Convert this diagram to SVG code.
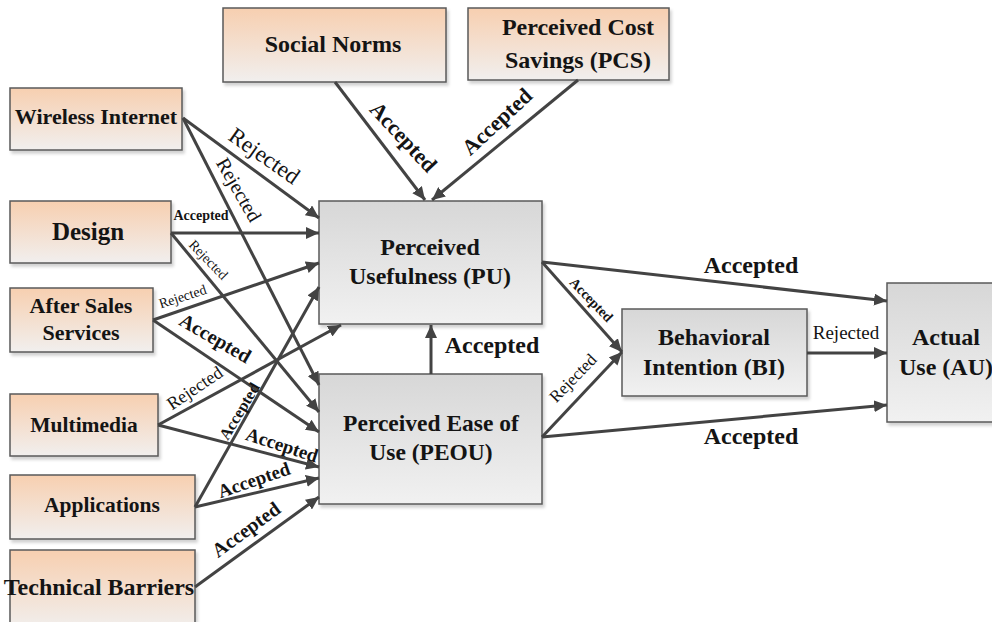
<svg xmlns="http://www.w3.org/2000/svg" width="992" height="622" viewBox="0 0 992 622">
  <style>
    .box { stroke: #5a5a5a; stroke-width: 1.5; }
    .ext { fill: url(#peach); }
    .core { fill: url(#grey); }
    .t { font-family: "Liberation Serif", "Times New Roman", serif; font-weight: bold; fill: #141414; text-anchor: middle; }
    .conn line { stroke: #434343; stroke-width: 3; marker-end: url(#arrow); }
    .lbl { font-family: "Liberation Serif", "Times New Roman", serif; fill: #141414; text-anchor: middle; }
    .acc { font-weight: bold; }
  </style>
  <defs>
    <linearGradient id="peach" x1="0" y1="0" x2="0" y2="1">
      <stop offset="0" stop-color="#f7cfb0"/>
      <stop offset="1" stop-color="#f1efee"/>
    </linearGradient>
    <linearGradient id="grey" x1="0" y1="0" x2="0" y2="1">
      <stop offset="0" stop-color="#d7d7d7"/>
      <stop offset="1" stop-color="#f1f1f1"/>
    </linearGradient>
    <filter id="shadow" x="-10%" y="-10%" width="125%" height="130%">
      <feDropShadow dx="2" dy="3" stdDeviation="1.5" flood-color="#000" flood-opacity="0.18"/>
    </filter>
    <marker id="arrow" markerUnits="userSpaceOnUse" markerWidth="14" markerHeight="12" refX="13" refY="6" orient="auto">
      <path d="M0,0 L13,6 L0,12 z" fill="#434343"/>
    </marker>
  </defs>

  <!-- external factors -->
  <g id="wireless-internet">
    <rect class="box ext" x="10" y="88" width="172" height="62" filter="url(#shadow)"/>
    <text class="t" x="96" y="124" font-size="22">Wireless Internet</text>
  </g>
  <g id="design">
    <rect class="box ext" x="10" y="201" width="161" height="62" filter="url(#shadow)"/>
    <text class="t" x="88" y="240" font-size="25">Design</text>
  </g>
  <g id="after-sales">
    <rect class="box ext" x="10" y="288" width="143" height="64" filter="url(#shadow)"/>
    <text class="t" x="81" y="313" font-size="22">After Sales</text>
    <text class="t" x="81" y="340" font-size="22">Services</text>
  </g>
  <g id="multimedia">
    <rect class="box ext" x="10" y="394" width="148" height="62" filter="url(#shadow)"/>
    <text class="t" x="84" y="432" font-size="21.5">Multimedia</text>
  </g>
  <g id="applications">
    <rect class="box ext" x="10" y="475" width="185" height="64" filter="url(#shadow)"/>
    <text class="t" x="102" y="512" font-size="21.5">Applications</text>
  </g>
  <g id="technical-barriers">
    <rect class="box ext" x="10" y="550" width="185" height="80" filter="url(#shadow)"/>
    <text class="t" x="99" y="595" font-size="24">Technical Barriers</text>
  </g>
  <g id="social-norms">
    <rect class="box ext" x="223" y="8" width="223" height="74" filter="url(#shadow)"/>
    <text class="t" x="333" y="52" font-size="24">Social Norms</text>
  </g>
  <g id="pcs">
    <rect class="box ext" x="468" y="8" width="201" height="72" filter="url(#shadow)"/>
    <text class="t" x="578" y="35" font-size="24">Perceived Cost</text>
    <text class="t" x="578" y="68" font-size="24">Savings (PCS)</text>
  </g>

  <!-- model constructs -->
  <g id="pu">
    <rect class="box core" x="319" y="201" width="223" height="123" filter="url(#shadow)"/>
    <text class="t" x="430" y="255" font-size="24">Perceived</text>
    <text class="t" x="430" y="284" font-size="24">Usefulness (PU)</text>
  </g>
  <g id="peou">
    <rect class="box core" x="319" y="374" width="223" height="130" filter="url(#shadow)"/>
    <text class="t" x="431" y="431" font-size="23.5">Perceived Ease of</text>
    <text class="t" x="431" y="460" font-size="23.5">Use (PEOU)</text>
  </g>
  <g id="bi">
    <rect class="box core" x="622" y="309" width="185" height="87" filter="url(#shadow)"/>
    <text class="t" x="714" y="345" font-size="24">Behavioral</text>
    <text class="t" x="714" y="375" font-size="24">Intention (BI)</text>
  </g>
  <g id="au">
    <rect class="box core" x="887" y="283" width="115" height="139" filter="url(#shadow)"/>
    <text class="t" x="946" y="345" font-size="24">Actual</text>
    <text class="t" x="946" y="375" font-size="24">Use (AU)</text>
  </g>

  <!-- connectors -->
  <g id="connectors" class="conn">
    <line x1="183" y1="118" x2="319" y2="218"/>
    <line x1="183" y1="118" x2="319" y2="385"/>
    <line x1="171" y1="233" x2="319" y2="233"/>
    <line x1="171" y1="233" x2="319" y2="412"/>
    <line x1="153" y1="320" x2="319" y2="263"/>
    <line x1="153" y1="320" x2="319" y2="432"/>
    <line x1="158" y1="425" x2="341" y2="325"/>
    <line x1="158" y1="425" x2="319" y2="467"/>
    <line x1="195" y1="507" x2="319" y2="287"/>
    <line x1="195" y1="507" x2="319" y2="478"/>
    <line x1="195" y1="587" x2="319" y2="497"/>
    <line x1="335" y1="82" x2="425" y2="200"/>
    <line x1="578" y1="80" x2="432" y2="200"/>
    <line x1="431" y1="374" x2="431" y2="325"/>
    <line x1="542" y1="262" x2="622" y2="352"/>
    <line x1="542" y1="437" x2="622" y2="352"/>
    <line x1="542" y1="262" x2="887" y2="301"/>
    <line x1="542" y1="437" x2="887" y2="405"/>
    <line x1="807" y1="353" x2="887" y2="353"/>
  </g>

  <!-- path labels -->
  <g id="labels">
    <text class="lbl" font-size="23" transform="translate(260,162) rotate(35)">Rejected</text>
    <text class="lbl" font-size="20" transform="translate(233,193) rotate(60)">Rejected</text>
    <text class="lbl acc" font-size="14" x="201" y="220">Accepted</text>
    <text class="lbl" font-size="14" transform="translate(205,263) rotate(46)">Rejected</text>
    <text class="lbl" font-size="14" transform="translate(184,301) rotate(-18)">Rejected</text>
    <text class="lbl acc" font-size="20" transform="translate(212,344) rotate(30)">Accepted</text>
    <text class="lbl" font-size="18" transform="translate(198,393) rotate(-34)">Rejected</text>
    <text class="lbl acc" font-size="19" transform="translate(280,451) rotate(18)">Accepted</text>
    <text class="lbl acc" font-size="16" transform="translate(244,414) rotate(-59)">Accepted</text>
    <text class="lbl acc" font-size="19" transform="translate(256,486) rotate(-19)">Accepted</text>
    <text class="lbl acc" font-size="20" transform="translate(250,535) rotate(-36)">Accepted</text>
    <text class="lbl acc" font-size="22" transform="translate(398,142) rotate(47)">Accepted</text>
    <text class="lbl acc" font-size="22" transform="translate(502,127) rotate(-43)">Accepted</text>
    <text class="lbl acc" font-size="24" x="492" y="353">Accepted</text>
    <text class="lbl acc" font-size="14" transform="translate(588,303) rotate(46)">Accepted</text>
    <text class="lbl" font-size="17" transform="translate(577,382) rotate(-46)">Rejected</text>
    <text class="lbl acc" font-size="24" x="751" y="273">Accepted</text>
    <text class="lbl acc" font-size="24" x="751" y="444">Accepted</text>
    <text class="lbl" font-size="19" x="846" y="339">Rejected</text>
  </g>
</svg>
